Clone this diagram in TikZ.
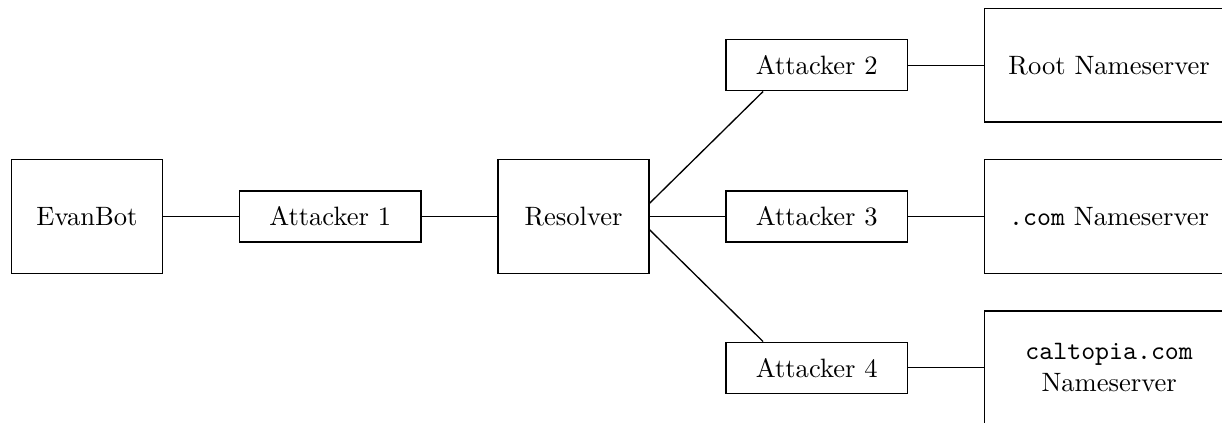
\documentclass[tikz,border=0pt]{standalone}
\usepackage{tikz}
\usetikzlibrary{positioning}

\begin{document}
\begin{tikzpicture}[-,auto,node distance=1cm,line width=0.5pt]
    \tikzstyle{host}=[draw,rectangle,minimum width=2cm,minimum height=1.5cm]
    \tikzstyle{attacker}=[draw,rectangle,minimum width=2.4cm,minimum height=0.675cm]
    \tikzstyle{server}=[draw,rectangle,align=center,minimum width=3.3cm,minimum height=1.5cm]
    \useasboundingbox (-1.151,-2.718) rectangle (15.013,2.864);

    \node[host]       (evanbot)                      {EvanBot};
    \node[attacker]   (att1)     [right=of evanbot]  {Attacker 1};
    \node[host]       (resolver) [right=of att1]     {Resolver};
    \node[attacker]   (att3)     [right=of resolver] {Attacker 3};
    \node[attacker]   (att2)     at ([yshift=2cm]att3)  {Attacker 2};
    \node[attacker]   (att4)     at ([yshift=-2cm]att3) {Attacker 4};
    \node[server]     (root)     [right=of att2]     {Root Nameserver};
    \node[server]     (com)      [right=of att3]     {\texttt{.com} Nameserver};
    \node[server]     (caltopia) [right=of att4]     {\texttt{caltopia.com}\\Nameserver};

    \path (evanbot)      edge (att1)
          (att1)         edge (resolver)
          (resolver)     edge (att3)
          (resolver.10)  edge (att2.206)
          (resolver.-10) edge (att4.154)
          (att2)         edge (root)
          (att3)         edge (com)
          (att4)         edge (caltopia);
\end{tikzpicture}
\end{document}
